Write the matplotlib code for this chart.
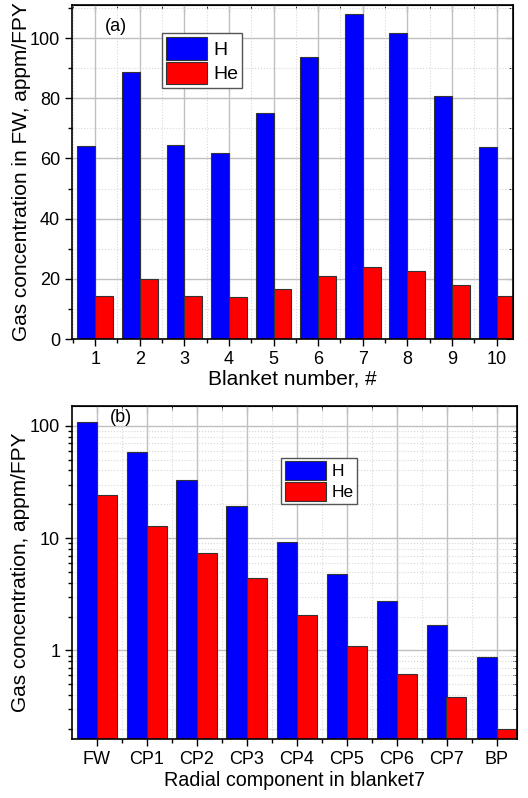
import matplotlib
matplotlib.use("Agg")
import matplotlib.pyplot as plt
from matplotlib.ticker import MultipleLocator, FixedLocator, LogLocator, NullFormatter
import numpy as np

plt.rcParams['font.family'] = ['Liberation Sans', 'DejaVu Sans']

# Panel (a)
blankets = [1, 2, 3, 4, 5, 6, 7, 8, 9, 10]
h_fw = [64.2, 88.6, 64.4, 61.9, 75.2, 93.8, 107.9, 101.6, 80.6, 63.7]
he_fw = [14.3, 19.8, 14.3, 13.9, 16.6, 20.9, 24.0, 22.5, 18.0, 14.3]

# Panel (b)
components = ["FW", "CP1", "CP2", "CP3", "CP4", "CP5", "CP6", "CP7", "BP"]
h_rad = [107, 57.9, 32.6, 19.4, 9.2, 4.81, 2.73, 1.69, 0.867]
he_rad = [24.1, 12.9, 7.4, 4.40, 2.08, 1.09, 0.62, 0.389, 0.199]

W, H = 528, 798
fig = plt.figure(figsize=(W/100, H/100), dpi=100)

def box(l, t, r, b):
    return [l/W, 1 - b/H, (r-l)/W, (b-t)/H]

ax1 = fig.add_axes(box(72, 5, 513, 339))
ax2 = fig.add_axes(box(72, 406, 517, 739))

blue = '#0000ff'
red = '#ff0000'
edge = '#333333'
tfs = 13
lfs = 15

def style(ax):
    ax.tick_params(which='both', direction='out', top=False, right=False, labelsize=tfs)
    ax.tick_params(which='major', length=5, width=1)
    ax.tick_params(which='minor', length=3, width=1)
    ax.grid(which='major', color='#c0c0c0', linewidth=1, linestyle='-')
    ax.grid(which='minor', color='#d8d8d8', linewidth=0.8, linestyle=':')
    ax.set_axisbelow(True)
    for s in ax.spines.values():
        s.set_linewidth(1.2)
    sec = ax.secondary_xaxis('top')
    sec.tick_params(which='both', direction='in', labeltop=False)
    sec.tick_params(which='major', length=5)
    sec.tick_params(which='minor', length=3)
    secy = ax.secondary_yaxis('right')
    secy.tick_params(which='both', direction='in', labelright=False)
    secy.tick_params(which='major', length=5)
    secy.tick_params(which='minor', length=3)
    return sec, secy

x1 = np.array(blankets)
ax1.bar(x1 - 0.2, h_fw, width=0.4, color=blue, edgecolor=edge, linewidth=0.8, label='H')
ax1.bar(x1 + 0.2, he_fw, width=0.4, color=red, edgecolor=edge, linewidth=0.8, label='He')
ax1.set_xlim(0.48, 10.37)
ax1.set_ylim(0, 111)
ax1.xaxis.set_major_locator(FixedLocator(blankets))
ax1.xaxis.set_minor_locator(MultipleLocator(0.5))
ax1.yaxis.set_major_locator(MultipleLocator(20))
ax1.yaxis.set_minor_locator(MultipleLocator(10))
s1, sy1 = style(ax1)
s1.xaxis.set_major_locator(FixedLocator(blankets))
s1.xaxis.set_minor_locator(MultipleLocator(0.5))
sy1.yaxis.set_major_locator(MultipleLocator(20))
sy1.yaxis.set_minor_locator(MultipleLocator(10))
ax1.set_xlabel('Blanket number, #', fontsize=lfs, labelpad=1)
ax1.set_ylabel('Gas concentration in FW, appm/FPY', fontsize=lfs)
ax1.yaxis.set_label_coords(-0.094, 0.5)
ax1.text(0.075, 0.96, '(a)', transform=ax1.transAxes, fontsize=tfs, va='top')
leg1 = ax1.legend(loc='upper left', bbox_to_anchor=(0.205, 0.915), fontsize=14,
                  handlelength=2.1, handleheight=1.4, handletextpad=0.3,
                  borderpad=0.2, labelspacing=0.1, fancybox=False, framealpha=1,
                  edgecolor='#555555', borderaxespad=0)
leg1.get_frame().set_linewidth(1)

x2 = np.arange(1, len(components) + 1)
ax2.bar(x2 - 0.2, h_rad, width=0.4, color=blue, edgecolor=edge, linewidth=0.8, label='H')
ax2.bar(x2 + 0.2, he_rad, width=0.4, color=red, edgecolor=edge, linewidth=0.8, label='He')
ax2.set_yscale('log')
ax2.set_xlim(0.51, 9.41)
ax2.set_ylim(0.163, 150)
ax2.xaxis.set_major_locator(FixedLocator(list(x2)))
ax2.xaxis.set_minor_locator(MultipleLocator(0.5))
ax2.set_xticklabels(components)
ax2.yaxis.set_major_locator(LogLocator(base=10))
ax2.yaxis.set_minor_locator(LogLocator(base=10, subs=np.arange(2, 10)))
ax2.yaxis.set_minor_formatter(NullFormatter())
ax2.yaxis.set_major_formatter(matplotlib.ticker.FuncFormatter(lambda v, p: f'{v:g}'))
s2, sy2 = style(ax2)
s2.xaxis.set_major_locator(FixedLocator(list(x2)))
s2.xaxis.set_minor_locator(MultipleLocator(0.5))
sy2.set_yscale('log')
sy2.yaxis.set_major_locator(LogLocator(base=10))
sy2.yaxis.set_minor_locator(LogLocator(base=10, subs=np.arange(2, 10)))
sy2.yaxis.set_minor_formatter(NullFormatter())
ax2.set_xlabel('Radial component in blanket7', fontsize=14.2, labelpad=2)
ax2.set_ylabel('Gas concentration, appm/FPY', fontsize=lfs)
ax2.yaxis.set_label_coords(-0.094, 0.5)
ax2.text(0.085, 0.99, '(b)', transform=ax2.transAxes, fontsize=tfs, va='top')
leg2 = ax2.legend(loc='upper left', bbox_to_anchor=(0.47, 0.845), fontsize=12.5,
                  handlelength=2.4, handleheight=1.3, handletextpad=0.3,
                  borderpad=0.2, labelspacing=0.1, fancybox=False, framealpha=1,
                  edgecolor='#555555', borderaxespad=0)
leg2.get_frame().set_linewidth(1)

fig.savefig('out.png', dpi=100)
